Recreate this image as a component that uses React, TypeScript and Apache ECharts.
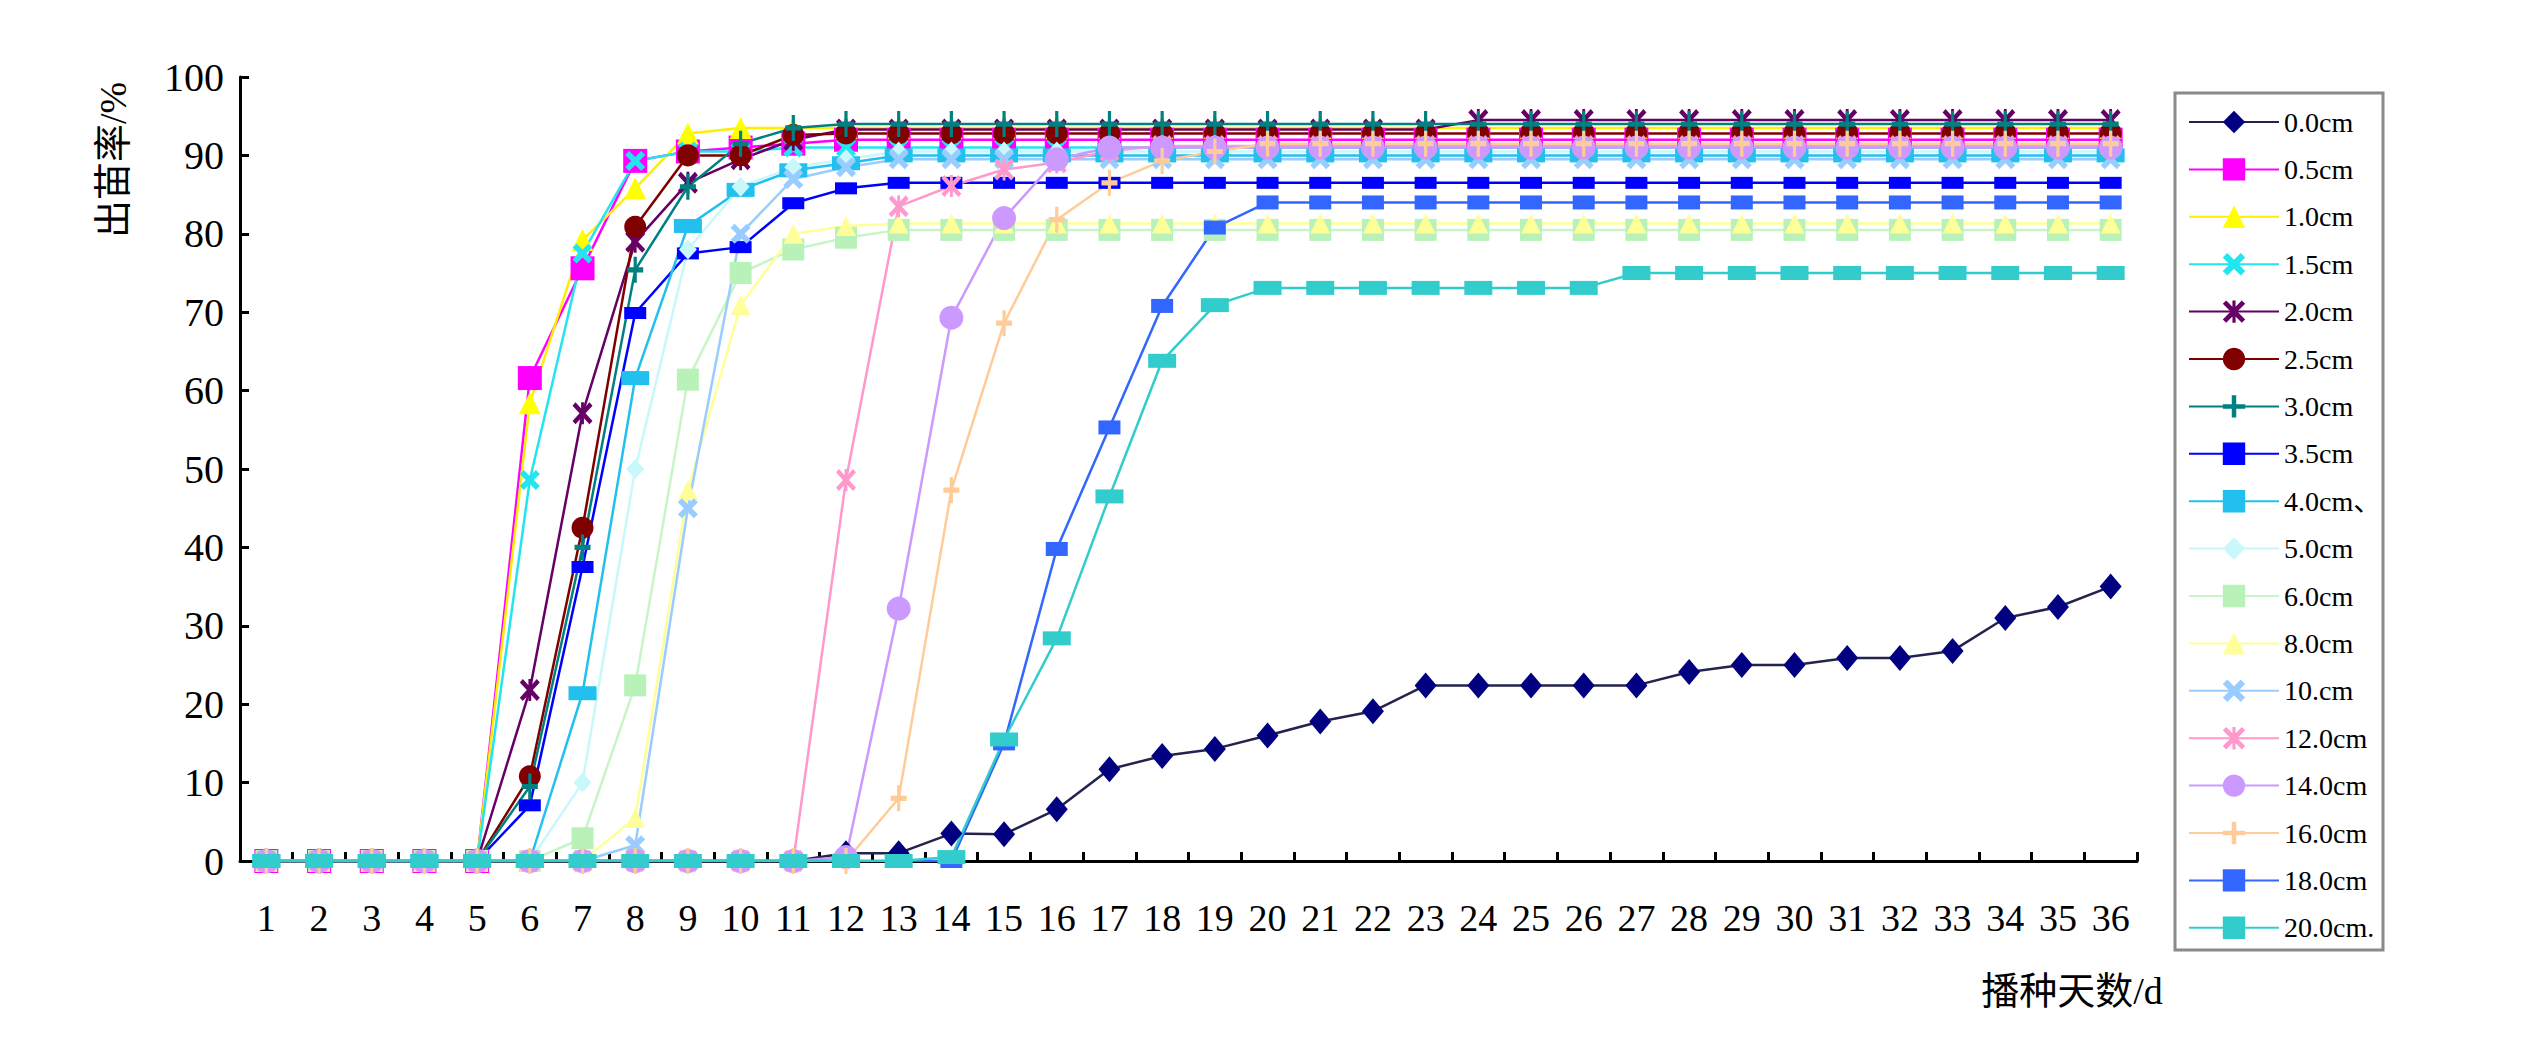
import React, { useEffect, useRef } from "react";
import * as echarts from "echarts";

const days = ["1","2","3","4","5","6","7","8","9","10","11","12","13","14","15","16","17","18","19","20","21","22","23","24","25","26","27","28","29","30","31","32","33","34","35","36"];

const seriesNames = ["0.0cm","0.5cm","1.0cm","1.5cm","2.0cm","2.5cm","3.0cm","3.5cm","4.0cm、","5.0cm","6.0cm","8.0cm","10.cm","12.0cm","14.0cm","16.0cm","18.0cm","20.0cm."];

const v00 = [0,0,0,0,0,0,0,0,0,0,0,1,1,3.5,3.4,6.6,11.7,13.4,14.3,16,17.8,19.1,22.4,22.4,22.4,22.4,22.4,24.1,25,25,25.9,25.9,26.8,31,32.4,35];
const v05 = [0,0,0,0,0,61.6,75.6,89.3,90.5,91,91.5,92,92,92,92,92,92,92,92,92,92,92,92,92,92,92,92,92,92,92,92,92,92,92,92,92];
const v10 = [0,0,0,0,0,58.4,79.2,85.8,92.8,93.5,93.5,93.5,93.5,93.5,93.5,93.5,93.5,93.5,93.5,93.5,93.5,93.5,93.5,93.5,93.5,93.5,93.5,93.5,93.5,93.5,93.5,93.5,93.5,93.5,93.5,93.5];
const v15 = [0,0,0,0,0,48.6,77.5,89.3,90.5,90.5,91,91,91,91,91,91,91,91,91,91,91,91,91,91,91,91,91,91,91,91,91,91,91,91,91,91];
const v20 = [0,0,0,0,0,21.8,57.1,79,86.5,89.5,92,93.3,93.3,93.3,93.3,93.3,93.3,93.3,93.3,93.3,93.3,93.3,93.3,94.5,94.5,94.5,94.5,94.5,94.5,94.5,94.5,94.5,94.5,94.5,94.5,94.5];
const v25 = [0,0,0,0,0,10.8,42.5,80.9,90,90,92.6,92.8,92.8,92.8,92.8,92.8,92.8,92.8,92.8,92.8,92.8,92.8,92.8,92.8,92.8,92.8,92.8,92.8,92.8,92.8,92.8,92.8,92.8,92.8,92.8,92.8];
const v30 = [0,0,0,0,0,9.5,40,75.4,86,91.5,93.5,94,94,94,94,94,94,94,94,94,94,94,94,94,94,94,94,94,94,94,94,94,94,94,94,94];
const v35 = [0,0,0,0,0,7.1,37.5,69.9,77.5,78.3,83.9,85.8,86.5,86.5,86.5,86.5,86.5,86.5,86.5,86.5,86.5,86.5,86.5,86.5,86.5,86.5,86.5,86.5,86.5,86.5,86.5,86.5,86.5,86.5,86.5,86.5];
const v40 = [0,0,0,0,0,0,21.4,61.6,81,85.6,88.1,89,90,90,90,90,90,90,90,90,90,90,90,90,90,90,90,90,90,90,90,90,90,90,90,90];
const v50 = [0,0,0,0,0,0,10,50,78,86,88.5,89.5,90.5,90.5,90.5,90.5,90.5,90.5,90.5,90.5,90.5,90.5,90.5,90.5,90.5,90.5,90.5,90.5,90.5,90.5,90.5,90.5,90.5,90.5,90.5,90.5];
const v60 = [0,0,0,0,0,0,2.9,22.4,61.4,75,78,79.5,80.5,80.5,80.5,80.5,80.5,80.5,80.5,80.5,80.5,80.5,80.5,80.5,80.5,80.5,80.5,80.5,80.5,80.5,80.5,80.5,80.5,80.5,80.5,80.5];
const v80 = [0,0,0,0,0,0,0,5.5,47.3,70.9,80,81,81.3,81.3,81.3,81.3,81.3,81.3,81.3,81.3,81.3,81.3,81.3,81.3,81.3,81.3,81.3,81.3,81.3,81.3,81.3,81.3,81.3,81.3,81.3,81.3];
const v100 = [0,0,0,0,0,0,0,2,45,80,87,88.5,89.5,89.5,89.5,89.5,89.5,89.5,89.5,89.5,89.5,89.5,89.5,89.5,89.5,89.5,89.5,89.5,89.5,89.5,89.5,89.5,89.5,89.5,89.5,89.5];
const v120 = [0,0,0,0,0,0,0,0,0,0,0,48.6,83.5,86.1,88.2,89.1,90.6,91.2,91.2,91.2,91.2,91.2,91.2,91.2,91.2,91.2,91.2,91.2,91.2,91.2,91.2,91.2,91.2,91.2,91.2,91.2];
const v140 = [0,0,0,0,0,0,0,0,0,0,0,0.5,32.2,69.3,82,89.5,91,91,91,91,91,91,91,91,91,91,91,91,91,91,91,91,91,91,91,91];
const v160 = [0,0,0,0,0,0,0,0,0,0,0,0,8,47.3,68.6,81.8,86.5,89.3,90.5,91.5,91.5,91.5,91.5,91.5,91.5,91.5,91.5,91.5,91.5,91.5,91.5,91.5,91.5,91.5,91.5,91.5];
const v180 = [0,0,0,0,0,0,0,0,0,0,0,0,0,0,15,39.8,55.3,70.8,80.8,84,84,84,84,84,84,84,84,84,84,84,84,84,84,84,84,84];
const v200 = [0,0,0,0,0,0,0,0,0,0,0,0,0,0.5,15.5,28.4,46.5,63.8,70.9,73.1,73.1,73.1,73.1,73.1,73.1,73.1,75,75,75,75,75,75,75,75,75,75];

const seriesValues = [v00, v05, v10, v15, v20, v25, v30, v35, v40, v50, v60, v80, v100, v120, v140, v160, v180, v200];

const X_PATH = "path://M0,2 L2,0 L5,3 L8,0 L10,2 L7,5 L10,8 L8,10 L5,7 L2,10 L0,8 L3,5 Z";
const PLUS_PATH = "path://M4,0 L6,0 L6,4 L10,4 L10,6 L6,6 L6,10 L4,10 L4,6 L0,6 L0,4 L4,4 Z";
const STAR_PATH = "path://M4.3,0 L5.7,0 L5.7,10 L4.3,10 Z M0,1.5 L1.5,0 L5,3.5 L8.5,0 L10,1.5 L6.5,5 L10,8.5 L8.5,10 L5,6.5 L1.5,10 L0,8.5 L3.5,5 Z";

const styles = [
  { color: "#000080", line: "#23234d", symbol: "diamond", size: [22, 26] },
  { color: "#FF00FF", line: "#FF00FF", symbol: "rect", size: [24, 24] },
  { color: "#FFFF00", line: "#FFEE00", symbol: "triangle", size: [22, 22] },
  { color: "#22E5F0", line: "#22E5F0", symbol: X_PATH, size: [20, 20] },
  { color: "#660066", line: "#660066", symbol: STAR_PATH, size: [20, 22] },
  { color: "#800000", line: "#800000", symbol: "circle", size: [22, 22] },
  { color: "#008080", line: "#008080", symbol: PLUS_PATH, size: [16, 26] },
  { color: "#0000FF", line: "#0000FF", symbol: "rect", size: [22, 12] },
  { color: "#22C0EE", line: "#22C0EE", symbol: "rect", size: [28, 14] },
  { color: "#C8F8FA", line: "#C8F8FA", symbol: "diamond", size: [18, 20] },
  { color: "#B8F2B8", line: "#C8F5C8", symbol: "rect", size: [22, 22] },
  { color: "#FFFF99", line: "#FFFF99", symbol: "triangle", size: [20, 20] },
  { color: "#99CCFF", line: "#99CCFF", symbol: X_PATH, size: [20, 20] },
  { color: "#FF99CC", line: "#FF99CC", symbol: STAR_PATH, size: [20, 22] },
  { color: "#CC99FF", line: "#CC99FF", symbol: "circle", size: [24, 24] },
  { color: "#FFCC99", line: "#FFCC99", symbol: PLUS_PATH, size: [16, 26] },
  { color: "#3366FF", line: "#3366FF", symbol: "rect", size: [22, 14] },
  { color: "#33CCCC", line: "#33CCCC", symbol: "rect", size: [28, 14] },
];

const SERIF = "'Liberation Serif', 'DejaVu Serif', 'Noto Sans CJK SC', serif";

export default function App() {
  const ref = useRef<HTMLDivElement>(null);
  useEffect(() => {
    if (!ref.current) return;
    const chart = echarts.init(ref.current, undefined, { renderer: "svg" });
    const series = seriesNames.map((name, i) => ({
      name,
      type: "line",
      data: seriesValues[i],
      symbol: styles[i].symbol,
      symbolSize: styles[i].size,
      showAllSymbol: true,
      lineStyle: { color: styles[i].line, width: 2.5 },
      itemStyle: { color: styles[i].color, borderWidth: 0 },
      emphasis: { disabled: true },
      z: 2,
    }));
    chart.setOption({
      animation: false,
      backgroundColor: "#ffffff",
      grid: { left: 240, right: 407, top: 77, bottom: 189, containLabel: false },
      xAxis: {
        type: "category",
        data: days,
        boundaryGap: true,
        axisLine: { show: true, lineStyle: { color: "#000", width: 3 } },
        axisTick: { show: true, inside: true, length: 9, lineStyle: { color: "#000", width: 3 } },
        axisLabel: { margin: 38, color: "#000", fontSize: 38, fontFamily: SERIF, interval: 0 },
        splitLine: { show: false },
      },
      yAxis: {
        type: "value",
        min: 0,
        max: 100,
        interval: 10,
        axisLine: { show: true, lineStyle: { color: "#000", width: 3 } },
        axisTick: { show: true, inside: true, length: 9, lineStyle: { color: "#000", width: 3 } },
        axisLabel: { margin: 16, color: "#000", fontSize: 40, fontFamily: SERIF },
        splitLine: { show: false },
      },
      legend: {
        orient: "vertical",
        left: 2188,
        top: 107,
        itemWidth: 90,
        itemHeight: 28,
        itemGap: 17.4,
        padding: 0,
        selectedMode: false,
        data: seriesNames,
        textStyle: { fontSize: 28, lineHeight: 30, color: "#000", fontFamily: SERIF },
      },
      graphic: [
        {
          type: "rect",
          shape: { x: 2175, y: 93, width: 208, height: 857 },
          style: { fill: "none", stroke: "#8a8a8a", lineWidth: 3 },
          z: 0,
        },
        {
          type: "text",
          x: 113,
          y: 160,
          rotation: Math.PI / 2,
          style: {
            text: "出苗率/%",
            fontSize: 38,
            fontFamily: SERIF,
            fill: "#000",
            align: "center",
            verticalAlign: "middle",
          },
        },
        {
          type: "text",
          x: 2072,
          y: 991,
          style: {
            text: "播种天数/d",
            fontSize: 38,
            fontFamily: SERIF,
            fill: "#000",
            align: "center",
            verticalAlign: "middle",
          },
        },
      ],
      series,
    });
    return () => chart.dispose();
  }, []);
  return (
    <div
      ref={ref}
      style={{ position: "absolute", left: 0, top: 0, width: 2544, height: 1050, background: "#fff" }}
    />
  );
}
